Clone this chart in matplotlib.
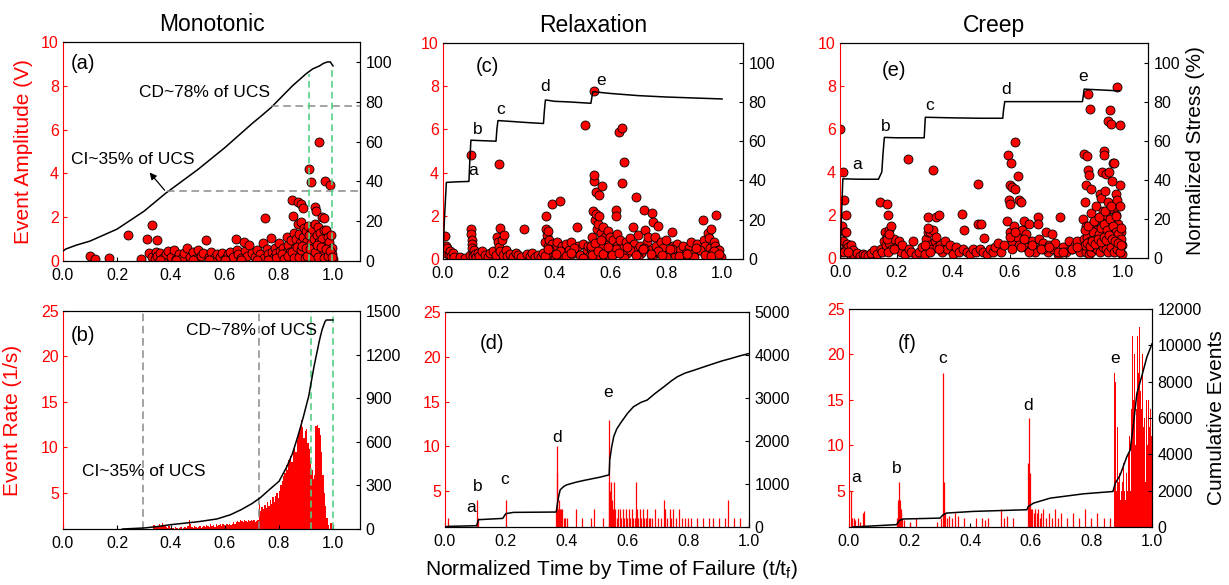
import numpy as np
import matplotlib
matplotlib.use("Agg")
import matplotlib.pyplot as plt

plt.rcParams['font.family'] = ['Liberation Sans', 'DejaVu Sans']

# ---------------- data ----------------
# (a) monotonic: AE amplitude events (t/tf, V)
a_x = [0.10, 0.12, 0.17, 0.24, 0.29, 0.31, 0.33, 0.35,
       0.32, 0.33, 0.34, 0.345, 0.35, 0.36, 0.37, 0.38, 0.39, 0.40, 0.41, 0.42, 0.43, 0.44, 0.45,
       0.46, 0.47, 0.48, 0.49, 0.50, 0.51, 0.52, 0.53, 0.54, 0.55, 0.56, 0.57, 0.58, 0.59, 0.60,
       0.61, 0.62, 0.63, 0.64, 0.645, 0.65, 0.66, 0.67, 0.675, 0.68, 0.69, 0.70, 0.71, 0.72, 0.73,
       0.74, 0.745, 0.75, 0.755, 0.76, 0.77, 0.775,
       0.78, 0.785, 0.79, 0.795, 0.80, 0.805, 0.81, 0.815, 0.82, 0.825, 0.83, 0.832, 0.835, 0.84,
       0.845, 0.85, 0.852, 0.855, 0.858, 0.86, 0.862, 0.865, 0.87, 0.872, 0.875, 0.878, 0.88,
       0.882, 0.885, 0.888, 0.89, 0.892, 0.895, 0.898, 0.90, 0.902, 0.905, 0.908, 0.91, 0.912,
       0.915, 0.918, 0.92, 0.922, 0.925, 0.928, 0.93, 0.932, 0.935, 0.938, 0.94, 0.942, 0.945,
       0.948, 0.95, 0.952, 0.955, 0.958, 0.96, 0.962, 0.965, 0.968, 0.97, 0.972, 0.975, 0.978,
       0.98, 0.982, 0.985, 0.99, 0.992, 0.995, 0.997, 0.999,
       0.80, 0.83, 0.86, 0.89, 0.92, 0.95, 0.97, 0.84, 0.87, 0.90, 0.93, 0.96, 0.985,
       0.79, 0.81, 0.82, 0.835, 0.85, 0.855, 0.865, 0.875, 0.88, 0.885, 0.895, 0.90, 0.905,
       0.915, 0.925, 0.935, 0.94, 0.945, 0.955, 0.965, 0.975, 0.98, 0.99, 0.995,
       0.36, 0.42, 0.48, 0.54, 0.60, 0.66, 0.72, 0.76]
a_y = [0.25, 0.10, 0.15, 1.20, 0.10, 1.00, 1.65, 0.95,
       0.35, 0.20, 0.10, 0.40, 0.25, 0.35, 0.15, 0.30, 0.45, 0.20, 0.50, 0.10, 0.30, 0.15, 0.35,
       0.60, 0.20, 0.40, 0.10, 0.50, 0.25, 0.35, 0.95, 0.20, 0.40, 0.15, 0.30, 0.20, 0.35, 0.10,
       0.30, 0.40, 0.20, 1.00, 0.50, 0.30, 0.15, 0.85, 0.45, 0.25, 0.75, 0.35, 0.20, 0.50, 0.30,
       0.80, 0.15, 1.95, 0.55, 0.30, 1.05, 0.40,
       0.20, 0.60, 0.35, 0.10, 0.80, 0.45, 0.25, 0.60, 0.30, 0.15, 1.10, 0.50, 0.75, 0.30,
       0.95, 2.80, 2.05, 1.30, 0.60, 0.20, 1.00, 0.45, 2.70, 1.70, 1.25, 0.80, 2.60,
       1.80, 0.35, 1.10, 2.40, 1.50, 0.70, 0.20, 1.35, 0.90, 0.50, 1.60, 4.20, 1.20,
       0.30, 0.80, 3.60, 1.45, 0.60, 1.00, 0.25, 1.70, 2.45, 2.30, 1.20, 0.50, 1.55,
       0.85, 5.45, 1.30, 0.40, 2.00, 1.00, 0.60, 1.95, 1.40, 3.65, 0.70, 1.40, 0.30,
       1.10, 0.55, 0.85, 3.45, 1.20, 0.60, 0.30, 0.10,
       0.05, 0.10, 0.05, 0.10, 0.05, 0.10, 0.05, 0.40, 0.30, 0.25, 0.45, 0.35, 0.20,
       0.15, 0.30, 0.10, 0.25, 0.40, 0.15, 0.65, 0.20, 0.50, 0.70, 0.15, 0.60, 0.25,
       0.55, 0.20, 0.40, 0.75, 0.20, 0.65, 0.15, 0.55, 0.25, 0.45, 0.20,
       0.05, 0.05, 0.05, 0.05, 0.05, 0.05, 0.05, 0.05]
# (a) normalized stress (%)
a_st_t = [0.0, 0.01, 0.05, 0.1, 0.15, 0.2, 0.25, 0.3, 0.34, 0.38, 0.44, 0.5, 0.55, 0.6,
          0.65, 0.7, 0.74, 0.77, 0.81, 0.85, 0.875, 0.9, 0.925, 0.95, 0.965, 0.98, 0.99, 1.0]
a_st_v = [5, 6, 8, 10, 13, 16, 20.5, 25, 29.5, 34, 40, 46, 51.5, 57,
          63, 69, 73.5, 77, 82.5, 88, 91, 94, 96.5, 98, 99.3, 100, 100, 98]
a_green_x = [0.911, 0.996]
a_green_top = [94, 98]

# (b) monotonic: event rate histogram, bins of 0.005 starting at 0.30
b_bin0, b_binw = 0.30, 0.005
b_rate = [0.5, 0.5, 0.5, 0.5, 0.5, 0.5, 0.5, 1.4, 1.2, 1.3,   # 0.300-0.345
          1.3, 1.5, 1.3, 1.7, 1.4, 1.3, 1.2, 1.1, 1.3, 1.1,   # 0.350-0.395
          1.2, 1.1, 1.0, 1.2, 1.1, 1.0, 1.1, 1.2, 1.0, 1.1,   # 0.400-0.445
          1.2, 1.1, 1.3, 2.0, 1.5, 1.2, 1.1, 1.3, 1.2, 1.1,   # 0.450-0.495
          1.2, 1.3, 1.1, 1.2, 1.3, 1.2, 1.4, 1.3, 1.2, 1.5,   # 0.500-0.545
          1.3, 1.4, 1.2, 1.5, 1.3, 1.4, 1.6, 1.3, 1.5, 1.4,   # 0.550-0.595
          1.3, 1.5, 1.4, 1.6, 1.4, 1.5, 1.8, 1.6, 1.8, 1.9,   # 0.600-0.645
          1.8, 2.0, 1.9, 1.8, 2.0, 1.9, 1.8, 2.0, 1.9, 2.0,   # 0.650-0.695
          1.9, 2.0, 1.8, 1.9, 2.0, 3.8, 3.0, 3.4, 3.2, 3.6,   # 0.700-0.745
          3.3, 4.0, 3.5, 4.2, 3.8, 4.5, 4.0, 4.6, 5.0, 4.4,   # 0.750-0.795
          5.2, 5.8, 6.3, 6.8, 7.2, 8.0, 7.5, 8.6, 9.0, 8.4,   # 0.800-0.845
          9.8, 10.2, 9.5, 10.8, 11.5, 12.0, 13.0, 12.2, 11.0, 11.8,  # 0.850-0.895
          12.0, 10.5, 9.8, 8.5, 7.5, 6.5, 7.0, 12.3, 12.4, 12.1,     # 0.900-0.945
          11.4, 9.5, 7.0, 5.0, 3.5, 2.2, 1.4, 1.0, 1.7, 0.5]         # 0.950-0.995
b_cum_t = [0.22, 0.3, 0.35, 0.4, 0.45, 0.5, 0.57, 0.62, 0.66, 0.7, 0.73, 0.77, 0.8, 0.83,
           0.85, 0.87, 0.89, 0.91, 0.93, 0.95, 0.96, 0.97, 0.975, 1.0]
b_cum_v = [0, 7, 17, 30, 40, 50, 69, 98, 133, 175, 214, 280, 328, 432,
           520, 639, 770, 914, 1121, 1300, 1374, 1425, 1438, 1438]
b_gray_x = [0.296, 0.725]
b_green_x = [0.92, 1.0]

# (c) relaxation: AE amplitude
c_x = [0.005, 0.008, 0.01, 0.012, 0.015, 0.02, 0.025, 0.03, 0.035, 0.04, 0.06, 0.08,
       0.095, 0.1, 0.1, 0.102, 0.103, 0.104, 0.105, 0.106, 0.108, 0.11, 0.115, 0.12, 0.125, 0.13,
       0.14, 0.15, 0.16, 0.17, 0.18,
       0.19, 0.195, 0.198, 0.2, 0.2, 0.203, 0.205, 0.21, 0.215, 0.22, 0.225, 0.23, 0.24, 0.25,
       0.26, 0.27, 0.28, 0.29, 0.3, 0.31, 0.32, 0.33, 0.34, 0.35,
       0.36, 0.365, 0.37, 0.37, 0.372, 0.375, 0.378, 0.38, 0.385, 0.39, 0.39, 0.395, 0.40, 0.41,
       0.415, 0.42, 0.425, 0.43, 0.44, 0.45, 0.46, 0.47, 0.48, 0.485, 0.49, 0.50, 0.51, 0.515,
       0.52, 0.525,
       0.53, 0.535, 0.538, 0.54, 0.54, 0.542, 0.545, 0.548, 0.55, 0.552, 0.555, 0.56, 0.56, 0.565,
       0.57, 0.57, 0.575, 0.58, 0.585, 0.59, 0.595, 0.60, 0.605, 0.61, 0.615, 0.62, 0.62, 0.622,
       0.625, 0.63, 0.635, 0.64, 0.642, 0.645, 0.65, 0.655, 0.66, 0.67, 0.675, 0.68, 0.685, 0.69,
       0.695, 0.70, 0.705, 0.71, 0.72, 0.725, 0.73, 0.735, 0.74, 0.75, 0.752, 0.76, 0.765, 0.77,
       0.775, 0.78, 0.79, 0.80, 0.81, 0.82, 0.825, 0.83, 0.84, 0.85, 0.86, 0.87, 0.88, 0.89, 0.90,
       0.91, 0.92, 0.93, 0.935, 0.94, 0.95, 0.952, 0.955, 0.96, 0.965, 0.97, 0.975, 0.98, 0.985,
       0.99, 0.995,
       0.40, 0.45, 0.50, 0.55, 0.60, 0.65, 0.70, 0.75, 0.80, 0.85, 0.90, 0.95,
       0.38, 0.42, 0.47, 0.53, 0.57, 0.62, 0.67, 0.72, 0.77, 0.82, 0.87, 0.92, 0.97,
       0.535, 0.545, 0.555, 0.565, 0.575, 0.59, 0.605, 0.63, 0.66, 0.69, 0.715, 0.745,
       0.785, 0.815, 0.845, 0.875, 0.905, 0.94, 0.96, 0.99, 0.365, 0.375, 0.405, 0.44, 0.46]
c_y = [0.40, 1.05, 0.60, 0.30, 0.50, 0.20, 0.35, 0.15, 0.30, 0.10, 0.10, 0.05,
       0.20, 4.80, 1.40, 1.15, 0.90, 0.70, 0.50, 0.30, 0.15, 0.40, 0.25, 0.10, 0.30, 0.15,
       0.35, 0.20, 0.10, 0.30, 0.35,
       0.20, 1.00, 0.80, 4.40, 0.55, 1.45, 0.35, 0.90, 0.20, 1.10, 0.40, 0.15, 0.25, 0.10,
       0.30, 0.20, 0.10, 1.40, 0.25, 0.15, 0.30, 0.10, 0.20, 0.10,
       0.30, 0.80, 2.00, 1.40, 1.10, 0.60, 1.30, 0.90, 0.40, 2.55, 0.70, 0.20, 0.50, 0.80,
       0.30, 2.70, 0.60, 0.20, 0.70, 0.40, 0.80, 0.30, 1.50, 0.60, 0.20, 0.70, 6.20, 0.40,
       0.60, 0.20,
       0.50, 1.00, 2.20, 7.80, 3.60, 3.90, 1.80, 2.10, 3.10, 1.40, 1.60, 2.95, 2.00, 1.20,
       3.40, 0.80, 1.50, 1.00, 0.50, 1.30, 0.70, 1.00, 0.40, 0.90, 0.30, 2.25, 2.00, 1.15,
       0.60, 5.90, 0.90, 6.05, 3.50, 0.50, 4.50, 0.80, 0.30, 0.95, 0.50, 1.50, 0.70, 2.85,
       0.40, 1.10, 0.60, 0.30, 2.25, 1.35, 0.80, 1.00, 0.40, 2.15, 1.70, 1.00, 0.60, 1.55,
       0.30, 0.80, 0.50, 0.90, 0.30, 1.25, 0.60, 0.20, 0.70, 0.40, 0.60, 0.20, 0.50, 0.80, 0.30,
       0.70, 0.40, 1.80, 0.90, 0.60, 1.20, 0.95, 0.50, 1.40, 0.30, 0.80, 0.60, 2.05, 0.40,
       0.40, 0.10,
       0.05, 0.10, 0.05, 0.10, 0.10, 0.05, 0.10, 0.05, 0.10, 0.05, 0.10, 0.05,
       0.45, 0.35, 0.50, 0.60, 0.55, 0.45, 0.40, 0.50, 0.35, 0.45, 0.30, 0.40, 0.35,
       0.20, 0.75, 0.35, 0.90, 0.25, 0.55, 0.20, 0.30, 0.55, 0.20, 0.45, 0.25,
       0.20, 0.45, 0.15, 0.25, 0.50, 0.20, 0.15, 0.25, 0.15, 0.45, 0.25, 0.15, 0.30]
c_st_t = [0.0, 0.005, 0.012, 0.05, 0.093, 0.096, 0.1, 0.15, 0.19, 0.193, 0.197, 0.25, 0.30,
          0.36, 0.363, 0.367, 0.40, 0.45, 0.53, 0.533, 0.537, 0.6, 0.7, 0.8, 0.9, 1.0]
c_st_v = [0, 20, 39, 39.3, 39.5, 50, 60.5, 60.2, 60, 66, 70.5, 70, 69.5,
          69.0, 75, 81, 80.3, 80, 79.3, 82, 85.2, 84.3, 83.2, 82.5, 82, 81.5]

# (d) relaxation: event rate spikes (t/tf, 1/s)
d_t = [0.01, 0.104, 0.107, 0.2, 0.365, 0.368, 0.37, 0.372, 0.375, 0.378, 0.38, 0.383, 0.386,
       0.39, 0.395, 0.40, 0.43, 0.45, 0.48, 0.49, 0.52, 0.538, 0.54, 0.543, 0.546, 0.55, 0.553,
       0.556, 0.56, 0.565, 0.57, 0.575, 0.58, 0.585, 0.59, 0.595, 0.60, 0.605, 0.61, 0.615, 0.62,
       0.625, 0.628, 0.63, 0.635, 0.64, 0.645, 0.65, 0.655, 0.66, 0.665, 0.67, 0.675, 0.68, 0.69,
       0.70, 0.71, 0.72, 0.725, 0.73, 0.74, 0.745, 0.75, 0.76, 0.77, 0.78, 0.79, 0.80, 0.81, 0.83,
       0.85, 0.87, 0.88, 0.90, 0.92, 0.93, 0.95, 0.97, 1.0]
d_rate = [2, 4, 2, 4, 3, 10, 7, 3, 4, 3, 3, 2, 3,
          2, 2, 2, 3, 2, 2, 3, 2, 13, 6, 5, 6, 4, 3,
          6, 3, 2, 3, 3, 2, 3, 2, 3, 2, 3, 2, 3, 2,
          2, 6, 3, 2, 3, 2, 3, 2, 2, 3, 2, 2, 2, 3,
          2, 2, 4, 3, 2, 3, 2, 3, 2, 3, 2, 2, 2, 2, 2,
          2, 2, 2, 2, 2, 4, 2, 2, 2]
d_cum_t = [0.0, 0.011, 0.104, 0.11, 0.19, 0.2, 0.225, 0.366, 0.37, 0.375, 0.379, 0.39, 0.4,
           0.43, 0.456, 0.51, 0.54, 0.542, 0.548, 0.555, 0.565, 0.577, 0.6, 0.62, 0.645, 0.665,
           0.69, 0.72, 0.745, 0.764, 0.79, 0.82, 0.85, 0.885, 0.91, 0.94, 0.97, 1.0]
d_cum_v = [0, 15, 30, 170, 200, 310, 340, 348, 556, 750, 865, 940, 980,
           1040, 1082, 1159, 1213, 1561, 1850, 2102, 2280, 2411, 2640, 2797, 2900, 2952,
           3100, 3261, 3400, 3493, 3580, 3648, 3720, 3802, 3860, 3918, 3980, 4034]

# (e) creep: AE amplitude
e_x = [0.0, 0.005, 0.008, 0.01, 0.012, 0.015, 0.018, 0.02, 0.02, 0.022, 0.025, 0.028, 0.03,
       0.035, 0.04, 0.045, 0.05, 0.06, 0.07, 0.08, 0.09, 0.1, 0.11, 0.12, 0.13, 0.14, 0.145, 0.15,
       0.155, 0.16, 0.162, 0.165, 0.167, 0.17, 0.172, 0.175, 0.18, 0.183, 0.19, 0.2, 0.21, 0.215,
       0.22, 0.23, 0.24, 0.245, 0.25, 0.26, 0.27, 0.28, 0.29, 0.3, 0.305, 0.31, 0.312, 0.315,
       0.32, 0.325, 0.33, 0.33, 0.335, 0.34, 0.345, 0.35, 0.355, 0.36, 0.37, 0.38, 0.39, 0.4,
       0.41, 0.42, 0.43, 0.435, 0.44, 0.45, 0.46, 0.47, 0.48, 0.49, 0.49, 0.495, 0.50, 0.505,
       0.51, 0.52, 0.53, 0.54, 0.55, 0.56, 0.57, 0.58, 0.59, 0.595, 0.598, 0.6, 0.6, 0.603,
       0.605, 0.608, 0.61, 0.615, 0.62, 0.62, 0.625, 0.63, 0.632, 0.635, 0.64, 0.645, 0.65,
       0.655, 0.66, 0.67, 0.675, 0.68, 0.69, 0.70, 0.70, 0.705, 0.71, 0.72, 0.73, 0.735, 0.74,
       0.75, 0.755, 0.76, 0.77, 0.78, 0.79, 0.80, 0.81, 0.82, 0.83, 0.84, 0.85,
       0.86, 0.862, 0.865, 0.868, 0.87, 0.872, 0.875, 0.876, 0.878, 0.88, 0.882, 0.885, 0.887,
       0.89, 0.892, 0.895, 0.9, 0.905, 0.91, 0.912, 0.915, 0.92, 0.922, 0.925, 0.928, 0.93,
       0.932, 0.935, 0.936, 0.938, 0.94, 0.942, 0.945, 0.948, 0.95, 0.952, 0.955, 0.957, 0.96,
       0.962, 0.965, 0.967, 0.97, 0.972, 0.975, 0.978, 0.98, 0.982, 0.985, 0.99, 0.99, 0.992,
       0.995, 0.997, 0.999,
       0.87, 0.88, 0.89, 0.90, 0.91, 0.92, 0.93, 0.94, 0.95, 0.96, 0.97, 0.98, 0.99,
       0.875, 0.885, 0.895, 0.905, 0.915, 0.925, 0.935, 0.945, 0.955, 0.965, 0.975, 0.985, 0.995,
       0.61, 0.64, 0.67, 0.72, 0.77, 0.82, 0.17, 0.19, 0.32, 0.35, 0.015, 0.03,
       0.866, 0.873, 0.883, 0.893, 0.903, 0.913, 0.923, 0.933, 0.943, 0.953, 0.963, 0.973,
       0.983, 0.993, 0.868, 0.878, 0.898, 0.918, 0.938, 0.958, 0.978, 0.996,
       0.60, 0.62, 0.65, 0.68, 0.71, 0.74, 0.79, 0.84, 0.30, 0.31, 0.34, 0.165, 0.175]
e_y = [6.00, 0.30, 1.50, 4.00, 0.80, 2.70, 1.20, 2.00, 0.50, 1.20, 0.65, 0.30, 0.50,
       0.20, 0.60, 0.35, 0.15, 0.25, 0.10, 0.20, 0.15, 0.10, 0.25, 0.35, 0.20, 2.60, 0.40, 0.30,
       0.80, 1.20, 0.60, 2.50, 1.00, 2.00, 1.30, 0.70, 1.50, 0.40, 0.90, 0.50, 0.80, 0.30,
       0.60, 0.20, 4.60, 0.40, 0.30, 0.80, 0.15, 0.30, 0.50, 0.20, 0.90, 1.90, 1.20, 0.60,
       1.20, 0.40, 4.10, 1.30, 0.80, 1.90, 0.50, 2.00, 0.60, 0.30, 0.80, 0.40, 0.60, 0.20,
       0.50, 0.30, 2.05, 0.40, 1.30, 0.30, 0.20, 0.40, 0.30, 3.45, 1.60, 0.40, 1.60, 0.30,
       0.95, 0.20, 0.40, 0.30, 0.50, 0.70, 0.30, 0.60, 1.70, 4.80, 2.70, 2.50, 3.40, 1.20,
       4.40, 3.30, 0.80, 1.50, 5.40, 3.20, 1.00, 3.80, 2.70, 0.60, 2.60, 1.30, 1.70,
       0.50, 1.10, 1.60, 0.40, 0.80, 0.30, 1.90, 1.60, 0.90, 0.50, 0.70, 1.20, 0.30, 0.60,
       1.10, 0.40, 0.70, 0.20, 1.90, 0.50, 0.30, 0.80, 0.40, 0.60, 0.80, 0.30,
       1.80, 0.90, 4.85, 2.60, 3.40, 1.50, 4.75, 7.65, 4.10, 3.85, 1.20, 6.95, 3.20,
       2.10, 0.70, 1.60, 1.00, 2.40, 1.30, 0.50, 1.80, 3.00, 1.10, 2.80, 4.00, 2.20,
       1.40, 5.00, 4.80, 3.10, 2.00, 3.90, 0.80, 6.35, 2.60, 4.00, 6.90, 1.50, 6.25,
       3.60, 4.40, 2.30, 4.40, 1.00, 3.00, 2.00, 7.95, 2.70, 1.60, 6.20, 3.40, 2.40,
       1.20, 0.60, 0.20,
       0.30, 0.20, 0.30, 0.50, 0.40, 0.30, 0.50, 0.40, 0.30, 0.50, 0.30, 0.40, 0.30,
       1.00, 0.80, 1.20, 0.90, 1.10, 1.40, 1.60, 1.30, 1.80, 1.50, 1.20, 1.10, 0.90,
       0.40, 0.50, 0.30, 0.40, 0.30, 0.40, 0.30, 0.40, 0.30, 0.40, 0.30, 0.30,
       0.60, 0.70, 0.55, 0.80, 0.65, 0.90, 0.75, 1.00, 0.85, 1.05, 0.90, 0.80,
       0.70, 0.60, 1.30, 1.50, 1.70, 1.90, 2.20, 2.40, 1.95, 1.40,
       1.00, 1.20, 0.90, 0.60, 0.40, 0.50, 0.30, 0.50, 0.60, 1.40, 1.00, 0.90, 1.10]
e_st_t = [0.0, 0.005, 0.01, 0.07, 0.136, 0.148, 0.152, 0.157, 0.2, 0.298, 0.300, 0.302, 0.4,
          0.5, 0.576, 0.579, 0.583, 0.7, 0.858, 0.861, 0.864, 0.92, 0.988]
e_st_v = [0, 20, 40.5, 40.3, 40.3, 44, 53, 61.7, 61.5, 61.5, 67, 72, 71.7,
          71.5, 71.5, 76, 80, 80, 80, 83, 86.4, 86, 85.5]

# (f) creep: event rate spikes
f_t = [0.005, 0.01, 0.015, 0.02, 0.03, 0.035, 0.045, 0.05, 0.16, 0.163, 0.166, 0.168, 0.17,
       0.173, 0.176, 0.18, 0.2, 0.22, 0.29, 0.305, 0.309, 0.312, 0.315, 0.318, 0.322, 0.33,
       0.34, 0.35, 0.36, 0.38, 0.42, 0.44, 0.45, 0.46, 0.5, 0.51, 0.52, 0.54, 0.591, 0.594,
       0.597, 0.6, 0.605, 0.61, 0.615, 0.62, 0.625, 0.63, 0.635, 0.64, 0.65, 0.66, 0.67, 0.68,
       0.69, 0.7, 0.72, 0.74, 0.76, 0.78, 0.8, 0.82, 0.84, 0.86]
f_rate = [5, 2, 2, 1.8, 2, 1.6, 2.5, 2.8, 2, 4, 6, 4, 3,
          2.5, 2, 1.8, 1.5, 2, 1.5, 2, 18, 6, 3, 2.5, 2, 2.2,
          2, 2.5, 2.2, 2, 2, 2, 1.8, 2, 3, 2, 2.2, 2, 8, 13,
          7, 3, 3, 2.5, 3, 2.5, 3, 2, 2.5, 3, 2, 2.5, 2, 3,
          2, 2.5, 2, 2.5, 2, 3, 2, 2.5, 2, 2]
# dense part near failure, bins of 0.0025 starting at 0.875
f_bin0, f_binw = 0.875, 0.0025
f_dense = [18, 17, 8, 5, 12, 6, 5, 7, 4, 5, 13, 6, 8, 5, 11, 4, 7, 5, 9, 6, 11, 5, 14, 12, 22,
           15, 20, 22, 10, 14, 22, 12, 18, 23, 16, 9, 14, 20, 12, 8, 13, 6, 15, 14, 10, 15, 12,
           11, 14, 11, 10]
f_cum_t = [0.013, 0.157, 0.167, 0.18, 0.3, 0.311, 0.322, 0.41, 0.587, 0.592, 0.609, 0.664,
           0.774, 0.871, 0.879, 0.895, 0.917, 0.928, 0.939, 0.95, 0.967, 0.983, 1.0]
f_cum_v = [0, 130, 365, 440, 490, 676, 767, 858, 950, 1132, 1315, 1589,
           1826, 1954, 2411, 2868, 3872, 4237, 5699, 7342, 8347, 9352, 10082]

# ---------------- figure ----------------
fig = plt.figure(figsize=(12.29, 5.85), dpi=100)
W, H = 1229, 585


def box(l, r, t, b):
    return [l / W, 1 - b / H, (r - l) / W, (b - t) / H]


TICK = 11.5
LAB = 15
green = '#55cf85'
gray = '#8a8a8a'


def setup(ax, xlim, ylim, yticks, r_ylim, r_yticks):
    ax.set_xlim(*xlim)
    ax.set_ylim(*ylim)
    ax.set_xticks([0.0, 0.2, 0.4, 0.6, 0.8, 1.0])
    ax.set_xticklabels(['0.0', '0.2', '0.4', '0.6', '0.8', '1.0'])
    ax.set_yticks(yticks)
    ax.tick_params(axis='x', direction='in', length=3, labelsize=TICK, pad=5)
    ax.tick_params(axis='y', direction='in', length=3, labelsize=TICK, colors='red', pad=3)
    ax.spines['left'].set_color('red')
    ax2 = ax.twinx()
    ax2.set_ylim(*r_ylim)
    ax2.set_yticks(r_yticks)
    ax2.tick_params(axis='y', direction='in', length=3, labelsize=TICK, pad=4)
    ax2.spines['left'].set_visible(False)
    return ax2


sc_kw = dict(s=42, c='red', edgecolors='black', linewidths=0.6, zorder=2)

# (a)
ax = fig.add_axes(box(63, 360, 42, 261))
ax2 = setup(ax, (0, 1.1), (0, 10), [0, 2, 4, 6, 8, 10], (0, 110), [0, 20, 40, 60, 80, 100])
ax.scatter(a_x, a_y, **sc_kw)
ax2.plot(a_st_t, a_st_v, color='black', lw=1.1)
ax2.hlines(35, 0.385, 1.1, colors=gray, linestyles=(0, (5, 3)), lw=1.1)
ax2.hlines(78, 0.77, 1.1, colors=gray, linestyles=(0, (5, 3)), lw=1.1)
for gx, gt in zip(a_green_x, a_green_top):
    ax2.plot([gx, gx], [0, gt], color=green, ls=(0, (4, 2.5)), lw=1.2)
ax2.annotate('', xy=(0.314, 45.5), xytext=(0.383, 34.5),
             arrowprops=dict(arrowstyle='-|>', color='black', lw=0.9, mutation_scale=10))
ax2.text(0.257, 51, 'CI~35% of UCS', ha='center', va='center', fontsize=12.5)
ax2.text(0.524, 84.6, 'CD~78% of UCS', ha='center', va='center', fontsize=12.5)
ax2.text(0.03, 99, '(a)', ha='left', va='center', fontsize=14.5)
ax.set_ylabel('Event Amplitude (V)', color='red', fontsize=LAB, labelpad=6)
ax.set_title('Monotonic', fontsize=16.5, pad=8)

# (b)
ax = fig.add_axes(box(63, 360, 311, 529))
ax2 = setup(ax, (0, 1.1), (1, 25), [5, 10, 15, 20, 25], (0, 1500), [0, 300, 600, 900, 1200, 1500])
b_edges = b_bin0 + b_binw * np.arange(len(b_rate))
ax.bar(b_edges, np.array(b_rate) - 1, width=b_binw, bottom=1, align='edge', color='red', lw=0)
ax2.plot(b_cum_t, b_cum_v, color='black', lw=1.1)
for gx in b_gray_x:
    ax.axvline(gx, color=gray, ls=(0, (5, 3)), lw=1.1)
for gx in b_green_x:
    ax.axvline(gx, color=green, ls=(0, (4, 2.5)), lw=1.2)
ax.text(0.03, 22.3, '(b)', ha='left', va='center', fontsize=14.5)
ax.text(0.70, 22.9, 'CD~78% of UCS', ha='center', va='center', fontsize=12.5)
ax.text(0.30, 7.3, 'CI~35% of UCS', ha='center', va='center', fontsize=12.5)
ax.set_ylabel('Event Rate (1/s)', color='red', fontsize=LAB, labelpad=14)

# (c)
ax = fig.add_axes(box(443, 743, 43, 259))
ax2 = setup(ax, (0, 1.075), (0, 10), [0, 2, 4, 6, 8, 10], (0, 110), [0, 20, 40, 60, 80, 100])
ax.scatter(c_x, c_y, **sc_kw)
ax2.plot(c_st_t, c_st_v, color='black', lw=1.1)
ax.text(0.117, 8.92, '(c)', ha='left', va='center', fontsize=14.5)
for s, px, py in zip('abcde', [0.108, 0.124, 0.208, 0.367, 0.566], [4.12, 6.0, 6.9, 8.0, 8.27]):
    ax.text(px, py, s, ha='center', va='center', fontsize=12.5, zorder=5)
ax.set_title('Relaxation', fontsize=16.5, pad=8)

# (d)
ax = fig.add_axes(box(445, 749, 312, 527))
ax2 = setup(ax, (0, 1.0), (1, 25), [5, 10, 15, 20, 25], (0, 5000), [0, 1000, 2000, 3000, 4000, 5000])
ax.vlines(d_t, 1, d_rate, colors='red', lw=0.9)
ax2.plot(d_cum_t, d_cum_v, color='black', lw=1.1)
ax.text(0.115, 21.5, '(d)', ha='left', va='center', fontsize=14.5)
for s, px, py in zip('abcde', [0.086, 0.107, 0.195, 0.368, 0.538], [3.2, 5.5, 6.3, 11.0, 16.0]):
    ax.text(px, py, s, ha='center', va='center', fontsize=12.5)

# (e)
ax = fig.add_axes(box(840, 1148, 43, 258))
ax2 = setup(ax, (0, 1.09), (0, 10), [0, 2, 4, 6, 8, 10], (0, 110), [0, 20, 40, 60, 80, 100])
ax.scatter(e_x, e_y, **sc_kw)
ax2.plot(e_st_t, e_st_v, color='black', lw=1.1)
ax.text(0.146, 8.72, '(e)', ha='left', va='center', fontsize=14.5)
for s, px, py in zip('abcde', [0.059, 0.162, 0.316, 0.588, 0.86], [4.34, 6.1, 7.07, 7.84, 8.46]):
    ax.text(px, py, s, ha='center', va='center', fontsize=12.5, zorder=5)
ax2.set_ylabel('Normalized Stress (%)', fontsize=LAB, labelpad=4)
ax.set_title('Creep', fontsize=16.5, pad=8)

# (f)
ax = fig.add_axes(box(849, 1152, 309, 527))
ax2 = setup(ax, (0, 1.0), (1, 25), [5, 10, 15, 20, 25], (0, 12000),
            [0, 2000, 4000, 6000, 8000, 10000, 12000])
ax.vlines(f_t, 1, f_rate, colors='red', lw=0.9)
f_edges = f_bin0 + f_binw * np.arange(len(f_dense))
ax.bar(f_edges, np.array(f_dense) - 1, width=f_binw, bottom=1, align='edge', color='red', lw=0)
ax2.plot(f_cum_t, f_cum_v, color='black', lw=1.1)
ax.text(0.162, 21.2, '(f)', ha='left', va='center', fontsize=14.5)
for s, px, py in zip('abcde', [0.024, 0.159, 0.309, 0.592, 0.879], [6.4, 7.4, 19.5, 14.4, 19.5]):
    ax.text(px, py, s, ha='center', va='center', fontsize=12.5)
ax2.set_ylabel('Cumulative Events', fontsize=LAB, labelpad=4)

fig.text(0.498, 0.026, r'Normalized Time by Time of Failure (t/t$_\mathregular{f}$)',
         ha='center', va='center', fontsize=LAB)

fig.savefig('out.png', dpi=100)
